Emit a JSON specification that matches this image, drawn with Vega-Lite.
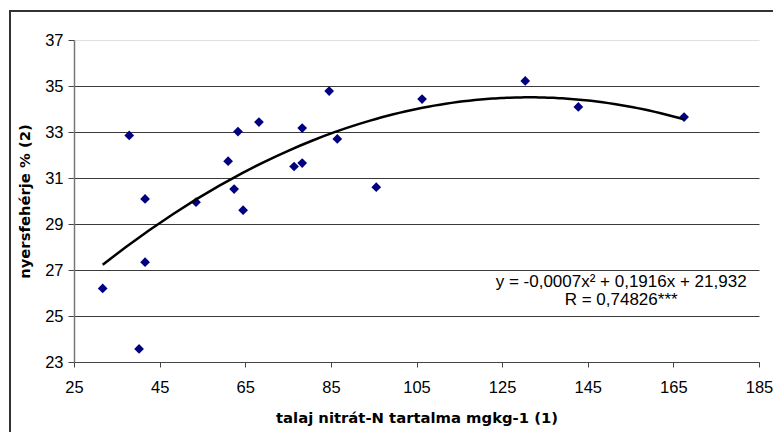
{
  "$schema": "https://vega.github.io/schema/vega-lite/v6.json",
  "width": 790,
  "height": 445,
  "autosize": {"type": "none"},
  "padding": {"left": 10, "top": 11, "right": -27, "bottom": -24},
  "background": "white",
  "config": {
    "view": {"stroke": "#333333", "strokeWidth": 2},
    "font": "Liberation Sans"
  },
  "data": {
    "values": [
      {"x": 31.7, "y": 26.2},
      {"x": 37.9, "y": 32.85},
      {"x": 40.2, "y": 23.57},
      {"x": 41.6, "y": 30.09},
      {"x": 41.6, "y": 27.34},
      {"x": 53.5, "y": 29.95},
      {"x": 61.0, "y": 31.73},
      {"x": 62.4, "y": 30.52},
      {"x": 63.3, "y": 33.02},
      {"x": 64.5, "y": 29.6},
      {"x": 68.2, "y": 33.43},
      {"x": 76.4, "y": 31.5},
      {"x": 78.3, "y": 31.65},
      {"x": 78.3, "y": 33.17},
      {"x": 84.6, "y": 34.78},
      {"x": 86.5, "y": 32.7},
      {"x": 95.6, "y": 30.6},
      {"x": 106.3, "y": 34.43},
      {"x": 130.4, "y": 35.22},
      {"x": 142.8, "y": 34.09},
      {"x": 167.5, "y": 33.65}
    ]
  },
  "layer": [
    {
      "mark": {"type": "point", "shape": "diamond", "filled": true, "color": "#000080", "size": 95, "opacity": 1},
      "encoding": {
        "x": {
          "field": "x",
          "type": "quantitative",
          "scale": {"domain": [25, 185], "range": [64, 749], "nice": false, "zero": false},
          "axis": {
            "values": [25, 45, 65, 85, 105, 125, 145, 165, 185],
            "title": "talaj nitrát-N tartalma mgkg-1 (1)",
            "offset": -94,
            "grid": false,
            "domainColor": "#444444",
            "tickColor": "#444444",
            "tickSize": 5,
            "labelFontSize": 16.5,
            "labelColor": "black",
            "labelPadding": 12,
            "labelFlush": false,
            "titleFont": "DejaVu Sans",
            "titleFontSize": 14.8,
            "titleFontWeight": "bold",
            "titleColor": "black",
            "titlePadding": 15
          }
        },
        "y": {
          "field": "y",
          "type": "quantitative",
          "scale": {"domain": [23, 37], "range": [351, 29], "nice": false, "zero": false},
          "axis": {
            "values": [23, 25, 27, 29, 31, 33, 35, 37],
            "title": "nyersfehérje % (2)",
            "offset": -64,
            "grid": true,
            "gridColor": {"condition": {"test": "datum.value === 37", "value": "#e0e0e0"}, "value": "#3a3a3a"},
            "gridWidth": 1,
            "domainColor": "#777777",
            "domainWidth": 1.5,
            "tickColor": "#444444",
            "tickSize": 6,
            "labelFontSize": 16.5,
            "labelColor": "black",
            "labelPadding": 5,
            "labelFlush": false,
            "titleFont": "DejaVu Sans",
            "titleFontSize": 14.8,
            "titleFontWeight": "bold",
            "titleColor": "black",
            "titlePadding": 12
          }
        }
      }
    },
    {
      "transform": [
        {"regression": "y", "on": "x", "method": "poly", "order": 2, "extent": [31.7, 167.5]}
      ],
      "mark": {"type": "line", "color": "black", "strokeWidth": 2.5},
      "encoding": {
        "x": {"field": "x", "type": "quantitative"},
        "y": {"field": "y", "type": "quantitative"}
      }
    },
    {
      "data": {"values": [{"eq": ["y = -0,0007x² + 0,1916x + 21,932", "R = 0,74826***"]}]},
      "mark": {"type": "text", "align": "center", "baseline": "middle", "fontSize": 17, "lineHeight": 17.5, "color": "black"},
      "encoding": {
        "x": {"datum": 152.8},
        "y": {"datum": 26.47},
        "text": {"field": "eq"}
      }
    }
  ]
}
